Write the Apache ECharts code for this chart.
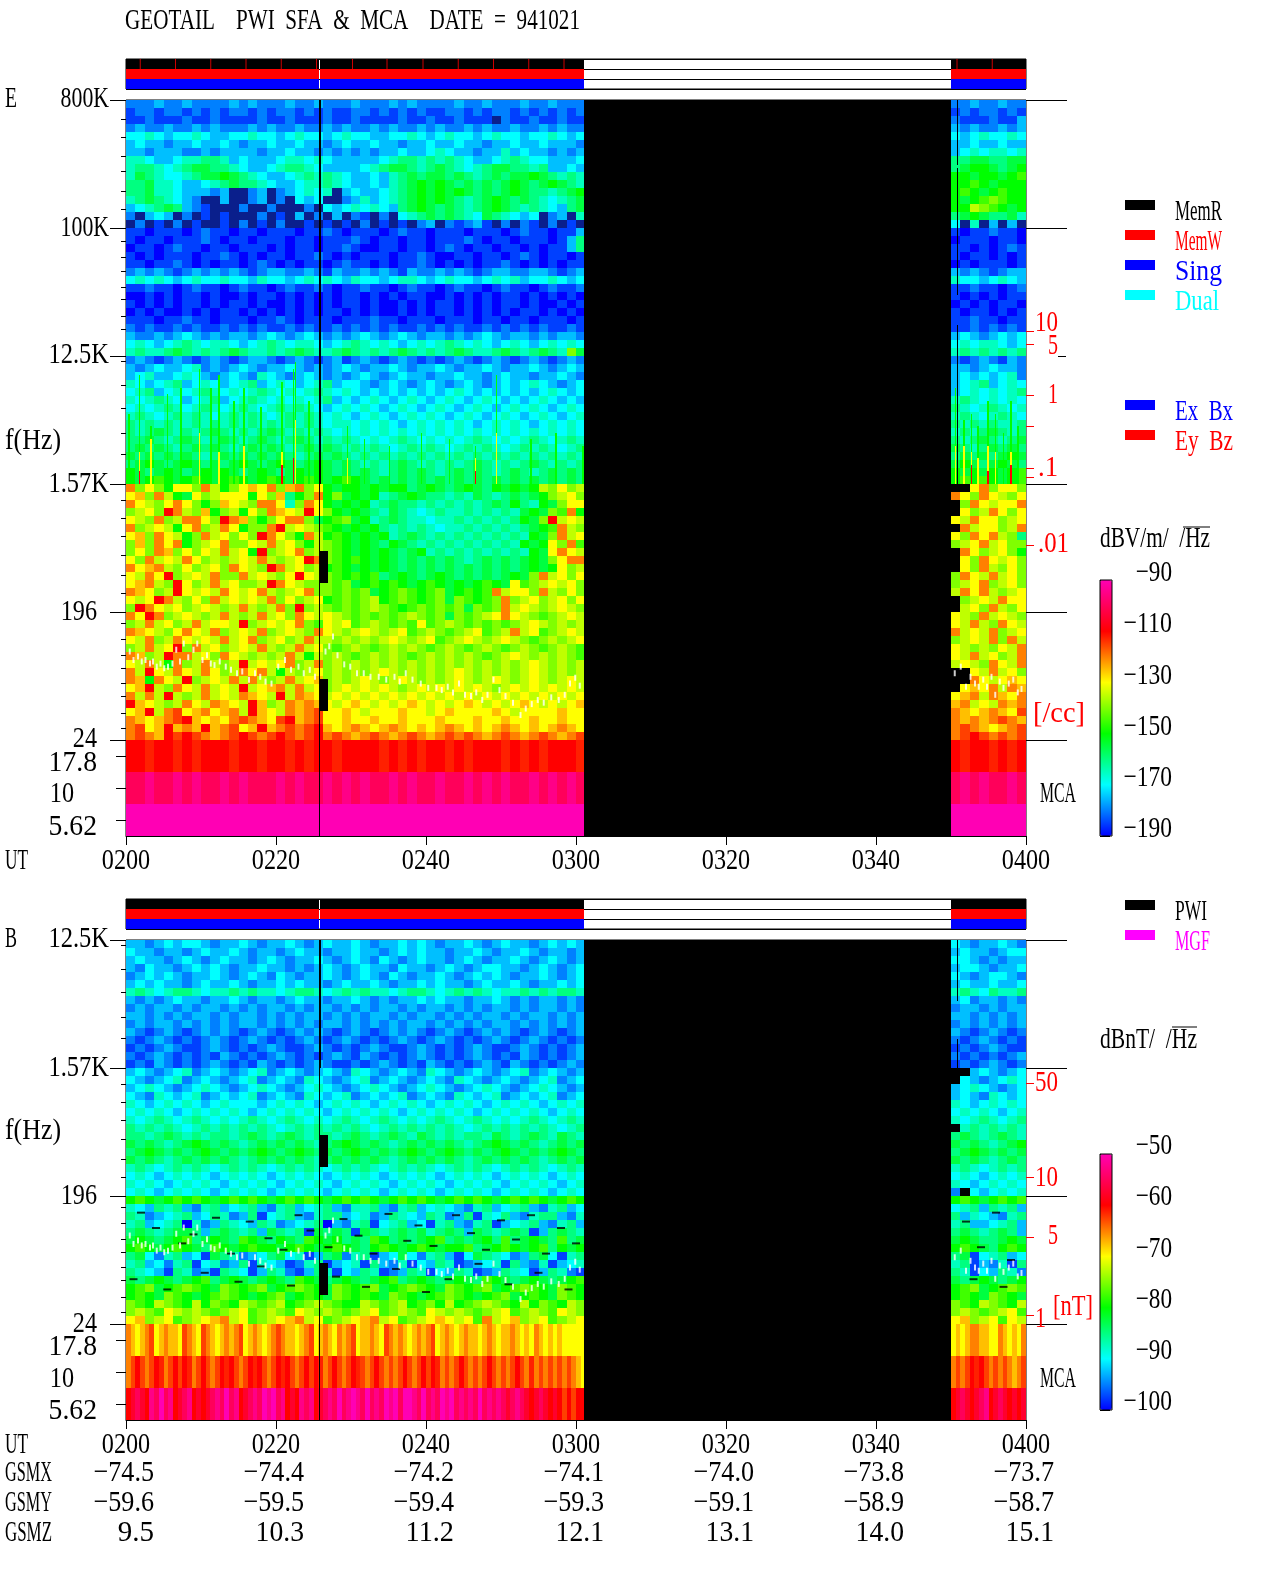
<!DOCTYPE html>
<html><head><meta charset="utf-8">
<style>html,body{margin:0;padding:0;background:#fff}#c{width:1280px;height:1593px}</style>
<script src="https://cdn.jsdelivr.net/npm/echarts@6/dist/echarts.min.js"></script>
</head><body><div id="c"></div>
<script>
// ---- level codes: digits are 10 dB steps (E) / 5 dB steps (B); letters are in-between values; 'd' = below scale; '.' = no data (black)
const levelCodes = {d:-1,'0':0,'1':1,'2':2,'3':3,'4':4,'5':5,'6':6,'7':7,'8':8,'9':9,a:10,p:.5,q:1.5,r:2.5,s:3.5,t:4.5,u:5.5,v:6.5,w:7.5,x:7.75,y:8.5,z:9.5};
const utTicks = ['0200','0220','0240','0300','0320','0340','0400'];
const utMinutes = [0,20,40,60,80,100,120];
const gsmX = ['−74.5','−74.4','−74.2','−74.1','−74.0','−73.8','−73.7'];
const gsmY = ['−59.6','−59.5','−59.4','−59.3','−59.1','−58.9','−58.7'];
const gsmZ = ['9.5','10.3','11.2','12.1','13.1','14.0','15.1'];

// E field, 800 kHz -> 1.57 kHz (left span | right span)
const eHigh = [
"111q11q1111q1q111q11q111q111q1q1111q11q111q11q1111q1 11q11q11",
"p11p11p1p1p11p1p11p1p1pp11p1p1p1pp11p1p11p1p1p1p11p p1p11p1p",
"pp1ppp1pp1pppp1pp1ppp1pp1pppp1pp1pp1pppd1pp1pp1ppp1 1ppp1ppq",
"1q11q11q1q111q1q11q11q1q11q1q11q1q11q1q11q11q1q11q1 q1q11q1q",
"22r2q22r2qq22r22q2r22q2r22qq22r2q2r22q2r22q22r2q222 2q2r22r2",
"q2qq1qq2qq2q1qq2qq2qq1q2qq2qq1qq2qq2qq1qq2qq2qqq1q2 qq2qq2qq",
"qq1qqq11q1qqqq1qq2qq1q1q1q1qq2qq2r2qq1qqrq2qq1q1qq1 q2r2rr2r",
"rr2qq2rr33rq2qqq2rr2r2qqqqq2r33r3r3r2qq2r3r22qqq2qq 33ss33ss",
"r33r2r3ss33r2qq2r33r2qqqq2r3ss3r3s3r2r3ss33r3qq2q22 3s44s3s4",
"rs3r22r3ss4s3r2qq2r3r3r2qq2qr3s3ss3s3r3s3ss4s3r3rrr 44s44s4t",
"33srr2qq2r3s33r2qq2rr3r2qq2qr3s4s4s3s3s3s4s3s4s3r3s 44t4s444",
"33srr2qqq1qdd1qd1q2r2rdq2qq2r3s4s4s4s3s3s4s33r3s4s4 4t4s4t44",
"r3s3r2q1ddqdd1qd1d2q2dd1qrq2r3s4s4s3r3s4s3s3r2r3s4t 4s4t5t44",
"q2r3s3q1pddd1dd1ddd1d2q2r2r2q3s4s3s3r3s4s3r3r2q3s4s 44u5t4s4",
"1dq2qd1dpdpddd1dpdqd1dqd1pd1d2r3s3s3r2s3r2q2d1qdr4t 3s4s33sr",
"d1dpd1dpddpd1dpd1ddpdpdpd1dpdpd1qd1p1qpd1d1pd1dpd3s 2drdqdqd",
"pp0ppp0p1pp0pp0ppp0pp1p0ppp0p1pp0ppp0ppp0p1pp0ppq2p p0pp1pp0",
"p0pp0ppp1p0pp0ppp0pp0ppp1p0pp0pp0ppp1p0pp0ppp0pq3pp 0ppp0pp0",
"0pp0p1pp0pp0ppp0p0pp0pp1p00pp0pp0p1p0pp0pp0p0ppq3p0 pp0p0p1p",
"p0p0ppp0pp1p0p0pp0pp1p0p0ppp0pp1p00pp0pp0p1p0pp0p0p p0pp0p0p",
"pp0pp1p0p0pp0p1p0p0pp0p1pp0p0pp1p0p0p0pp1p0p0p0pp1p 0p0ppp0p",
"1q1q1p1q1q1q1p1qq11q1pq11q1q1pq11q1q1p1qq11qq1p1q1q q1q1p1qq",
"2r2r2q2r22r22qr22q2r2r2qr22q2rr2q2r22q2r2rq22r2q22r r22q2r2q",
"pp1pp0p1pp0p1pp0p1pp1p0pp1pp0p1pp0p1pp0p1pp0p1pp1pp pp1pp0p1",
"00p0p0pp0p00p0pp0p0p0p0pp0p0p0pp00p0p0p0pp0p0p0p0pp p0p0p0pp",
"p0p0p0pp0p0pp0p00p0p0p0pp0p00p0p0pp0p0p0pp0p00p0p0p 0p0p0pp0",
"0p0p00p0p0pp0p0p0p0p0pp0p0p00p0p0pp0p0p0p0pp0p0p0p0 p0pp0p0p",
"ppp0pp1pp0ppp0pp1p0ppp0ppp1pp0ppp0ppp0pp0pp0ppp0ppp pp1pp0pp",
"1p1pp1p1pp1p1p1pp1p1pp1p1p1p1pp1p1p1pp1p1p1p1pp1p1p pp1p1p1p",
"q11q1q2q1q1qq1q2q1q2q1q1q2q1q2q1qq1q1q2q1qq1q1qq1q1 q2q1q2q2",
"2r2q2r3r2rr2q2r3r2rr2q2r3r2r2q2r2r3r2r2q2r2q2r2r2r3 2r2rr2q2",
"r3rr3s3r3r3s3rr3r3s3rr3s3r3r3s3r3r3s3rr3s3r3s3r5s33 r3r3r3r3",
"1q1p1q1p1q1p1qq1p1q1p1qp1q1p1q1p1p1q1p1q1p1q1p1q1pp 1p1q1pq1",
"q1q2qq2r1q1q2q1qq2q1q1q2q1qq2q1qq2q1qq2q1qq2q1q2q1q qq1q2qq1",
"q2rqq2r2q1q2q1r2q1q2q1q1q2q1q2qq1qq2qq1q2qq1qq2q1qq q2q2q2r1",
"r2q2r3q2r2q2r3q2r2q2r3q22q1q2q1q2q1q2q1q2q2r2q1q2q1 q2r3q2r2",
"2r3q2r2r3r2r2r3r2r2r3r2r2q2q2q2q2q2r2q2q2q2q2r2q2q2 q2r2r2r3",
"r2r3r2q2r3q2r3r2r2r2r3q2q2r2q2r2q2r2q2r2q2q2r2q2q2r r3r2r2r2",
"2r2r3r2r3r2r3r2r3r3r2q2r2r2q2r2q2r2q2r2q2r2r2q2r2r2 3r2r3r2r",
"r3r2r3r3r2r3r3r2r3r3r2r2q2r2q2r2r2q2r2q2r2q2r2q2r2q r3r2r3r2",
"3r3r3rr3r3r3r3r3r3r3r2rr2r2r2q2r2r2r2q2r2r2q2r2r2r2 3r3r3rr3",
"3r3s3r3r3s3r3r3s3r3r3r2r2r2r2r2r2r2r2r2r2r2r2r2r2r2 r3r3s3r3",
"33s3r3s3r3s3r3s3r3s3r3r3r2r2r3r2r2r2r3r2r2r3r2r3r2r 3r3s3r3s",
"3s3s3r3s3s3r3s3s3r3s3s3r3r3r2r3r3r2r3r3r2r3r3r2r3r3 s3r3s3s3",
"s3s3s3s3r3s3s3s3s3r3s3s3r3r3r3r3r3r3r3r3r3r3r3r3r3r 3s3s3s4s",
"3s4s3s4s3s3s4s3s4s3s4s3s3r3r3s3r3r3r3s3r3r3s3r3r3r3 s4s3s4s3",
"4s3s4s3s4s4s3s4s3s4s4s3s3s3r3s3s3r3s3s3r3s3r3s3s3r3 4s4s4s4t",
"4s4t4s4t4s4t4s4t4s4t4s4t4s3s3s3s3s3s3s3s3s3s3s3s3s3 4t4t4s4t"];

// E field, 1.57 kHz -> 24 Hz
const eLow = [
"756546657u456v675v7564s44s4s443s4s3s4s34s4s4u565u6 ..675665",
"6v57u4s65u666465v345745s4s4r3s4s33r3rs3r3s3s45u65u 76576u56",
"76u5676545v6u5776r5764s4s4r3s33r3r3r3r3s343r4s5665 .576u667",
"5u6587u5v45u4657v6u8654s4s3rs3r2r3rr3r3r3rs4s5t745 .65u7656",
"6u575u776587v5456775s4t5s4r3s3rr2rr3r3r3r34s58u6u5 6u7665u6",
"75u6u4675u7645578u6u5t4s4s43r3r3r2rr3r3r3r3s4t7u56 .7u665u7",
"6v576u457u6565876547u4t4s4s4r3s3r3r3r3r3r3r4s57u65 65767u53",
"5v576745u67556u7u654u5t4s4s34s3r3r3r3r3r3r4s4657t5 5u67u655",
"5657v5656u7u6485u675u5t4s4s4s3s4r3r3r3r3r3r4s676u5 .765u654",
"657u6u765u5u6u7u5u6875t4t4s4s3s3s3s3r3s3s3s4s56776 .6576u65",
"76v7u565u6576u587u65u4t4s4s4s3s3s3s3s3s3s3s4s465u6 .657u565",
"6u7685u6u7557u6u5686u5t4t4t3s4s3s4s3s3s3s4s57u6565 576u7u65",
"6v7u5865u7u655u876u555t5s4t4t4s4t4s4s4t4s6t5u6u655 5u675u65",
"7v65u86u6u76u67u5u6755t5t5s4t5t4t5s4t4t7u6657u5655 u767u5u6",
"6u687u5657u6u6u7565u64t5t5u4t5t4t5s5t4t575u65u6565 .5u6u766",
"5876u65u6u5u7u5u7585u5t5t5u5t4t5t5t5s5t57u6u5u6u55 .u657u56",
"76875u6u5u7u5u7u6576u6u5t5t5t5u5t5s5t5u676u5t5u6u5 6u57u6u5",
"5u7u65u7u66u85u6u675t6u6t5u5t5t6t5u5t5t5t5u6u5u5u5 6u7u576u",
"7v6u5676u75u6u75u6u576u5u6u5u6t5u5t5u6t5u7u6t5u6u5 7u6u75u6",
"6u75u76u6u7u675u65u7uu5u5u5u6u5u6t5u6u5u6u5t5u5u65 5u6u757u",
"5u7u6857u65u6u7u5u7u65t5u5t5u5u5t5u5t5u5t5u5t5u5t5 6u5u56u7",
"7v5u877u6576u5u5u7u4u5u5t5u5u5t5u5u5u5t5u6u5u5u5t5 6u7u65u7",
"6u7u475u7u5u8u6u675u75u5u5u5u5u5u5u5u5u5u5u6u5u5u5 u6u576u7",
"7u86u76u765u767u4u5u65u5u5u6u5u5u5u6u5u5u5u6u5u5u5 ..6u7u65",
"7v476u85u6u7u7u5u7u6v5u5u6u5u6u5u5u6u5u6u5u6u5u6u5 ..76u6v6",
"6v8u576u7u6u8u6v7u7u65u6u6u6u5u6u6u6u6u5u6u6u6u6u6 .6v67u7v",
"7u7u8u5u7u6u7v6u8u7v6u6u6u6u6u6u6u6u6u6u6u6u6u6u6u 6v7u7v67",
"8v6u5u76u7v6u8v5u7v7v6u6v6u6u6v6u6u6v6u6u6v6u6u6v6 v7u6u7v7",
"6v8u7w6v76v7u8v6u7v7w66v6u666v66u6v6666v6u6666v666 7v6v7v6w",
"7v6v7w8v6v67w7v6w8v7w66v66v66v666v666v66v66v66v6666 7v7v7w7v",
"7w6v8v7v8v7w6v8v7w7w8v6v7v6v7v6v6v7v6v6v7v6v6v7v6v6 7w7v6v7w",
"7w7v8w8w7v7w8w7w8w7w87w7v7w7v7w7v7w7w7v7w7v7w7v7w7v 7w8w7w7w"];

// E field, MCA bands (17.8, 10, 5.62 Hz)
const eMca178 = "88x88x8x888x88x88x8x88x8888x8x8x88x8x888x8x8x888x8x 8x88x8x8";
const eMca10  = "99z99z9z99z9z999z9z99z9z9z99z9z99z99z9z9z99z9z9z9z9 9z9z99z9";
const eMca562 = "aaaaaaaaaaaaaaaaaaaaaaaaaaaaaaaaaaaaaaaaaaaaaaaaaaaa aaaaaaaa";

// E field, thin vertical bursts above 1.57 kHz: minutes, top in axis steps
const burstGreenT = [0.3,1.7,3.2,5.4,7.2,9.7,11.2,12.3,14.3,15.6,17.9,20.7,22.2,22.5,24.3,29.4,31.7,35,39.3,43,46.5,49.3,53.9,57.2,60.8,110.5,111.6,112.6,113.5,114.8,115.8,116.9,117.9,118.8];
const burstGreenTop = [3.3,3.6,3.2,3.45,3.5,3.65,3.5,3.6,3.4,3.5,3.35,3.55,3.65,3.7,3.4,3.2,3.1,3.05,3.15,3.1,3.05,3.6,3.1,3.15,3.05,3.5,3.25,3.3,3.2,3.4,3.3,3.15,3.4,3.2];
const burstYellowT = [1.7,3.2,9.7,12.3,15.6,20.7,22.5,29.4,46.5,49.3,110.5,111.6,112.6,113.5,114.8,115.8,117.9];
const burstYellowTop = [3.0,3.1,3.15,3.0,3.05,3.0,3.25,2.95,2.95,3.15,3.05,3.05,3.0,2.95,3.05,3.0,3.0];
const burstRedT = [1.7,20.7,22.2,46.5,112.6,114.8,117.9];
const burstRedTop = [2.85,2.9,2.95,2.85,2.9,2.85,2.9];

// B field, 12.5 kHz -> 1.57 kHz
const bHigh = [
"qq1q2q22q1qq2q1qq2q1q2qq2q1qq2q2q1qq2q1q2qq1q2q2q1 2q1qq2q1",
"2qq1qq1q2qq2q1qq1q2qq1qq2qq1q2q2qq1qq2q1qq2q1qq1q2 q2qq1q22",
"q2qq1q2q1q2qq1q2q1qq2q1q2q12q1q2qq1q2q1qq2q1q2q1qq 22q1q1qq",
"q12qq1q2q2q1qq2qq1q1q2q1q2qq12qq1q2q1q22qq1q2q1q2q q22q1qq2",
"1q2q2q1qq2q1q2q12q1qq2q1q2q12q1qq2q1q2q2q1qq2q1q2q 2q1q22q1",
"q2q2qq1q2qq2q1qq2q2qq1q2qq2q1qq2q2qq1q2qq2q1qq2q2q q2qq2qq2",
"r3r2r33r2rr3r3rr2r33r2r3r3rr2r33r2r3r3r2rr3r3r33r2 r3r23rr3",
"q1q1q2qq1qq2q1qq1q2qq1qq2q1q1qq2q2qq1qq2q1q1qq1q1q q21qq1q1",
"1q1qq1q1qq1q1q1qq1q1qq1q1q1qq1q1qq1q1q1qq1q1qq1q1q 1qq1q1qq",
"qq1q1q1qq1q1qq1q1q1qq1q1q1qq1q1qq1q1q1qq1q1qq1q1qq qq1q1q1q",
"1q1qq1q1q1q1qq1q1q1q1qq1q1q1q1qq1q1q1q1qq1q1q1q1qq 1q1q1q1q",
"q1p1q1p1q1q1p1q1p1q1q1p1q1p1q1q1p1q1p1q1q1p1q1p1q1 q1p1q1p1",
"1p1q1p1p1q1p1q1p1p1q1p1q1p1p1q1p1q1p1p1q1p1q1p1p1q 1p1q1p1p",
"p1p1q1pp1q1p1p1q1pp1q1p1p1q1pp1q1p1p1q1pp1q1p1p1q1 p1p1q1pp",
"1p1q1p1p1pq1p1p1q1p1p1q1pq1p1p1q1p1p1q1p1pq1p1p1q1 1p1p1p1q",
"p1pq1p1p1q1p1pq1p1p1q1pp1p1q1p1pq1p1p1q1pq1p1p1q1p p1p1q1p1"];

// B field, 1.57 kHz -> 24 Hz
const bLow = [
"q2q1q2r1q2q1q2r1q2q1q2q1r2q1q2q1r2q1q2q1q2r1q2q1q2r ..q2q1q2",
"2q1q2r1q2q1q2r1q2q1r2q1q2r1q2q1q2q1r2q1q2q1q2r1q2q1 .2q1q2r2",
"q2r2q1q2r2q1q2r2q1q2r2q1q2r2q1q2r2q1q2r2q1q2r2q1q2r q2r2q1q2",
"2q1r2q2r1q2q2r1q2q1r2q2r1q2q2r1q2q1r2q2r1q2q2r1q2q1 q2q1r2q2",
"r2q2r2r2q2r222q2r2r2q2r2r2q2r2r2q2r2r2q2r2r2q2r2r2q r2q2r2r2",
"2r2r2q2r2r2r2q2r2r2r2q2r2r2r2q2r2r2r2q2r2r2r2q2r2r2 2r2r2q2r",
"r2r3r2r3r2r2r3r2r3r2r2r3r2r3r2r2r3r2r3r2r2r3r2r3r2r r2r3r2r3",
"3r3r3r2r3r3r3r3r2r3r3r3r3r2r3r3r3r3r2r3r3r3r3r2r3r3 .r3r3r3r",
"33r3s3r3r33r3s3r3s3r33r3s3r3s3rs3r3r33rs3r3s3rs3r3r 3s3r3s3r",
"s3s3r3s4s3s3r3s3s3s3r3s4s3s3r3s3s3s3r3s4s3s3r3s3s3s s3s3r3s4",
"3s4s3s3s4s3s3s4s3s4s3s3s4s3s3s4s3s4s3s3s4s3s3s4s3s4 3s4s3s3s",
"s3s3r3s3s3s3r3s3s3s3r3s3s3s3r3s3s3s3r3s3s3s3r3s3s3s s3s3r3s3",
"r3r2r3r3r2r3r3r2r3r3r2r3r3r2r3r3r2r3r3r2r3r3r2r3r3r r3r2r3r3",
"2r2q2r2r2q2r2r2q2r2r2q2r2r2q2r2r2q2r2r2q2r2r2q2r2r2 2r2q2r2r",
"r2r2q2r2r2q2r2r2q2r2r2q2r2r2q2r2r2q2r2r2q2r2r2q2r2r r2q2r2r2",
"2r2q2r2r2q2r2r2q2r2r2q2r2r2q2r2r2q2r2r2q2r2r2q2r2r2 1.2q2r2r",
"4t4s4t4t4s4t4t4s4t4t4s4t4t4s4t4t4s4t4t4s4t4t4s4t4t4 4t4s4t4t",
"r2q3r3q1r3q2r3q1r3q2r3q1rr3q1r3q2r2q1r3q2r3q1r3q2r3 2r3q3r3q",
"3r1q2r3q23r1q3p2r3q1r33q2r1q3r2q3r1q3pr23q1r33q1r3q 3qr2q1r3",
"r3q2r30r1q3r2q3r1q2r30q1r3p2r3q2pr3q1r3pq2r3q1r3q2r r3qq2r3q",
"3s3r3ss3q3s3r3qs3r3ps3s3ps3r3s3sr3s3qs3r3s3pq3s3r3s 3s3r3s3q",
"s4s3s4t3s4s3t4s34s3t4s43s3t43s3s4t3s3s43t3s4s3t3s3s s4s33s4s",
"4t4s4t4s3t4s4t44s4t4s4t4s34t4s4t4s44t3s4t4s4t34s4t4 4t4s34t4",
"3s21r3q2ps3r1q23s2rpq3s1r3pq2s21r3qp2s3r21q3s2pr3q2 3sp2r3q2",
"r3q21r3p2r1q3pr2qp1r3pq2rp3q1rp2q3rp1q2rp3q1rpq2r3p r3pq1rp3",
"3r2qp3r1qp3r2pq3r1pq3rp2q3rp1q3rp2q3rp1q3r2pq3r1pq3 3rp2q3r1",
"s3s4s3s4t3s4s3s4s3t4s3s4s3s4t3s4s3s4s3t4s3s4s3s4t3s s3s4s3s4",
"4t5s4t5t4s5t4t5s4t5t4s5t4t5s4t5t4s5t4t5s4t5t4s5t4t5 4t5s4t5t",
"4t4s5t4s4t5t4s4t5s4t4s5t4t4s5t4s4t5t4s4t5s4t4s5t4s4 4t4s5t4s",
"5t4u5t4u45t4u5t5u4t5u5t44u5t5u4t54u4t5u5t4u45t4u5t4 5t4u5t4u",
"5u5t6u5u5t5u6t5u5t6u5u5t5u6t5u5t6u5u5t5u6t5u5t6u5u5 5u5t5u6t",
"6v5u6t5u6v7u6t5u6v7u6t5u6v7u6t5u6v6u6t7u6v5u6t5u6v5 6v5u6t6u"];

// B field, short black dropouts: minutes and axis steps
const dropT = [2,4,7.5,9,12,14,16.5,19,21,23,24.6,27,29,31,33,35,37.5,39,41,44,46,48,50,52,54,56,58,60,1,5.5,10.5,15,18,22,28,32,36,40,43,47,51,55,59,112,114,116,118,113,117];
const dropStep = [1.62,1.5,1.38,1.45,1.58,1.3,1.55,1.42,1.33,1.6,1.48,1.35,1.57,1.44,1.3,1.61,1.4,1.52,1.36,1.6,1.46,1.33,1.56,1.41,1.6,1.3,1.5,1.38,1.1,1.02,1.15,1.08,1.2,1.05,1.12,1.04,1.18,1.0,1.1,1.22,1.06,1.15,1.02,1.55,1.35,1.62,1.25,1.1,1.04];

// B field, MCA bands, finer time steps
const bMca178 = "7v6v7w6v7vv6w7v6w7v6v7v7w6v7v6v7w7vv6v7w6v7v67v7w6vv7v6w7v7v6v7v7w6v7v6v7vv6v7v6vv7v6v67v6v6v66666666 6v6v77vv667v6v67";
const bMca10  = "7w8w7w8x7w8w8x7w8w7w8x8w7w8x8w7w8x8w7w8w8x7w8w7w8xw7w8w7w7w8w7w8w8x7w7w8w7w7w8w7w7w8w7x7w7w7w7w7v6v6v 7w7w8x8w7w7w7v7w";
const bMca562 = "8y9y8z9a9z8y9z8y8y9z9a9z8y9z9aza9z8y8z9z8y9z9a9zaz9a9z9aza9aaz9a9z9aza9z9z9a9z9z9y9z9y8y9y8y8w8w8888 8y9y8y9z8y9y8y8y";

// time spans of data
const dataSpans = [[0,61.07],[110,120]];
const statusSpans = [[0,25.75],[25.9,61.07],[110,120]];
const statusColors = ['#0000ff','#ff0000','#000000'];
const statusTickMinutes = [1.9,6.6,11.3,16,20.7,25.4,30.2,34.8,39.6,44.3,49,53.7,58.4,110.8,115.5];

// white trace: minutes and Hz
const traceT = [0.5,1.0,1.6,2.1,2.6,3.2,3.6,4.1,4.6,5.1,5.6,6.2,6.7,7.2,7.7,8.3,9.0,9.5,10.2,10.8,11.3,11.8,12.5,13.3,14,14.8,15.5,16.4,17.2,17.9,18.6,19.4,20.3,21.2,22,23,23.7,24.5,25.2,26.6,27.1,27.6,28.2,29.1,29.9,30.8,31.7,32.6,33.7,34.7,35.8,36.5,37.3,38.2,39.3,40.3,41.4,42.1,42.9,43.6,44.4,45.2,46,46.7,47.5,48.2,49,49.8,50.6,51.6,52.6,53.3,54.1,54.9,55.7,56.7,57.7,58.5,59.2,59.9,60.5,110.5,111.3,112,112.6,113.2,113.7,114.3,114.8,115.4,115.9,116.5,117,117.7,118.3,118.9,119.4];
const traceHz = [101,88,93,86,88,83,86,79,83,77,79,83,104,86,115,92,104,115,88,95,83,81,86,79,75,71,73,64,71,67,62,60,79,88,75,79,71,75,67,101,110,129,95,82,79,71,71,67,67,64,67,62,71,64,60,56,56,54,57,52,60,50,49,52,46,50,64,54,49,44,36,40,43,46,44,48,46,50,60,66,58,71,79,57,67,60,57,64,57,67,50,62,56,60,64,52,55];

// black no-data marks: t0,t1,yLow,yHigh in axis steps
const gapMarksShared = [[25.87,26.93,1.98,2.23],[25.87,26.93,0.98,1.23]];
const gapMarksE = [[25.75,25.88,0,5.75],[25.75,26.05,2.75,5.75],[110.75,110.92,5.24,5.75],[110.75,110.92,4.23,5.22],[110.75,110.92,2.75,3.99]];
const gapMarksB = [[25.75,25.88,0,3.75],[25.75,26.05,2.75,3.75],[110.75,110.92,3.27,3.75],[110.75,110.92,2.75,2.98]];

// axis ticks, in steps of factor 8 (0.75 = 24 Hz, 1.75 = 196 Hz ...); MCA bands are 0.25 each
const majorSteps = [0.75,1.75,2.75,3.75,4.75,5.75];
const mcaSteps = [0.125,0.375,0.625];
const minorSteps = [5.60,5.46,5.31,5.19,5.04,4.90,4.65,4.52,4.41,4.29,4.19,4.06,3.96,3.71,3.52,3.34,3.15,2.98,2.625,2.48,2.34,2.19,2.04,1.90,1.66,1.54,1.41,1.31,1.19,1.09,0.96,0.84];
const redStepsE = [3.94,3.84,3.44,3.20,2.875,2.80,2.27];
const redStepsB = [2.63,1.90,1.43,0.82];
const cbTicksE = [-190,-170,-150,-130,-110,-90];
const cbTicksB = [-100,-90,-80,-70,-60,-50];

const rampColors = ['#0000ff','#00ffff','#00ff00','#ffff00','#ff0000','#ff00b4'];
const COLW = 1.25;

function cells(rows, topStep, rowStep, base, perLevel, colW){
  const out = [];
  rows.forEach((row,i)=>{
    const parts = row.split(' ');
    const y1 = topStep - i*rowStep, y0 = y1 - rowStep;
    parts.forEach((p,s)=>{
      const span = dataSpans[s];
      const cw = s===1 ? (span[1]-span[0])/p.length : colW;
      for(let c=0;c<p.length;c++){
        const t0 = span[0]+c*cw; if(t0>=span[1]) break;
        const t1 = Math.min(span[1], t0+cw);
        const lv = levelCodes[p[c]];
        if(lv===undefined) continue;
        out.push([t0,t1,y0,y1,lv<0 ? base : base+perLevel*lv, lv<0 ? 1 : 0]);
      }
    });
  });
  return out;
}
function bursts(ts,tops,dB){ return ts.map((t,i)=>[t,t+0.2,2.75,tops[i],dB,0]); }
function rectItem(fillOf){
  return function(params, api){
    const a = api.coord([api.value(0),api.value(3)]);
    const b = api.coord([api.value(1),api.value(2)]);
    const x = Math.round(a[0]), y = Math.round(a[1]);
    return {type:'rect', shape:{x:x,y:y,width:Math.max(1,Math.round(b[0])-x),height:Math.max(1,Math.round(b[1])-y)}, style:{fill:fillOf(api)}};
  };
}
const spectro = rectItem(api=>api.value(5)? '#0a1f8c' : api.visual('color'));
const blackRect = rectItem(()=>'#000');
const statusRect = rectItem(api=>statusColors[api.value(4)]);

const stepOfHz = f => 0.75 + Math.log(f/24)/Math.log(8);
const tracePts = () => traceT.map((t,i)=>[t,stepOfHz(traceHz[i])]);

const eData = [].concat(
  cells(eHigh,5.75,1/16,-190,10,COLW),
  cells(eLow,2.75,1/16,-190,10,COLW),
  cells([eMca178,eMca10,eMca562],0.75,0.25,-190,10,COLW),
  bursts(burstGreenT,burstGreenTop,-150),
  bursts(burstYellowT,burstYellowTop,-130),
  bursts(burstRedT,burstRedTop,-110));
const bData = [].concat(
  cells(bHigh,3.75,1/16,-100,5,COLW),
  cells(bLow,2.75,1/16,-100,5,COLW),
  cells([bMca178,bMca10,bMca562],0.75,0.25,-100,5,0.625));
const statusData = [];
statusSpans.forEach(s=>{[0,1,2].forEach(r=>statusData.push([s[0],s[1],r,r+1,r]));});

const LEFT=126, W=900;
const grids = [
 {left:LEFT,top:100,width:W,height:736,show:true,backgroundColor:'#000',borderColor:'#000',borderWidth:1},
 {left:LEFT,top:59,width:W,height:30,show:true,backgroundColor:'#fff',borderColor:'#000',borderWidth:1},
 {left:LEFT,top:940,width:W,height:480,show:true,backgroundColor:'#000',borderColor:'#000',borderWidth:1},
 {left:LEFT,top:899,width:W,height:30,show:true,backgroundColor:'#fff',borderColor:'#000',borderWidth:1},
 {left:1100,top:580,width:12,height:256,show:true,backgroundColor:'transparent',borderColor:'#000',borderWidth:1,z:10},
 {left:1100,top:1154,width:12,height:256,show:true,backgroundColor:'transparent',borderColor:'#000',borderWidth:1,z:10}
];
const blackLine={color:'#000',width:1};
function xA(g,ticks){return {gridIndex:g,type:'value',min:0,max:120,interval:20,position:'bottom',
  axisLine:{show:ticks,lineStyle:blackLine,onZero:false},axisTick:{show:ticks,length:9,lineStyle:blackLine},axisLabel:{show:false},splitLine:{show:false}};}
function yA(g,max,pos,vals,len,color,offset){return {gridIndex:g,type:'value',min:0,max:max,position:pos,offset:offset||0,
  axisLine:{show:false,onZero:false},axisLabel:{show:false},splitLine:{show:false},
  axisTick:{show:true,inside:false,length:len,customValues:vals,lineStyle:{color:color,width:1}}};}
const statusY=g=>({gridIndex:g,type:'value',min:0,max:3,interval:1,axisLine:{show:false},axisTick:{show:false},axisLabel:{show:false},splitLine:{show:true,lineStyle:blackLine}});
const cbY=(g,min,max,vals)=>({gridIndex:g,type:'value',min:min,max:max,position:'right',axisLine:{show:false},splitLine:{show:false},axisLabel:{show:false},axisTick:{show:true,length:10,customValues:vals,lineStyle:blackLine}});
const xAxes=[xA(0,true),xA(1,false),xA(2,true),xA(3,false),
  {gridIndex:4,type:'value',min:0,max:1,show:false},{gridIndex:5,type:'value',min:0,max:1,show:false}];
const yAxes=[
 yA(0,5.75,'left',majorSteps,16,'#000'),                  //0
 yA(0,5.75,'left',minorSteps,5,'#000'),
 yA(0,5.75,'left',mcaSteps,10,'#000'),
 yA(0,5.75,'right',[0.75,1.75,2.75,4.75,5.75],41,'#000'),
 yA(0,5.75,'right',redStepsE,8,'#f00'),
 yA(0,5.75,'right',[3.75],8,'#000',32),
 statusY(1),                                              //6
 yA(2,3.75,'left',majorSteps.filter(v=>v<=3.75),16,'#000'), //7
 yA(2,3.75,'left',minorSteps.filter(v=>v<=3.75),5,'#000'),
 yA(2,3.75,'left',mcaSteps,10,'#000'),
 yA(2,3.75,'right',[0.75,1.75,2.75,3.75],41,'#000'),
 yA(2,3.75,'right',redStepsB,8,'#f00'),
 statusY(3),                                              //12
 cbY(4,-190,-90,cbTicksE),                                //13
 cbY(5,-100,-50,cbTicksB)                                 //14
];
function custom(name,xi,yi,data,ri,z){return {type:'custom',name:name,xAxisIndex:xi,yAxisIndex:yi,data:data,renderItem:ri,encode:{x:[0,1],y:[2,3]},clip:true,silent:true,animation:false,progressive:0,z:z||2};}
function trace(xi,yi){return {type:'scatter',xAxisIndex:xi,yAxisIndex:yi,data:tracePts(),symbol:'rect',symbolSize:[2,6],itemStyle:{color:'#fff'},silent:true,animation:false,z:6};}
const series=[
 custom('E spectrum',0,0,eData,spectro),
 custom('B spectrum',2,7,bData,spectro),
 custom('E gaps',0,0,gapMarksShared.concat(gapMarksE),blackRect,4),
 custom('B gaps',2,7,gapMarksShared.concat(gapMarksB),blackRect,4),
 trace(0,0),trace(2,7),
 {type:'scatter',name:'B dropouts',xAxisIndex:2,yAxisIndex:7,data:dropT.map((t,i)=>[t,dropStep[i]]),symbol:'rect',symbolSize:[8,2],itemStyle:{color:'#000'},silent:true,animation:false,z:5},
 custom('E status',1,6,statusData,statusRect),
 custom('B status',3,12,statusData,statusRect),
 {type:'scatter',xAxisIndex:1,yAxisIndex:6,data:statusTickMinutes.map(t=>[t,2.5]),symbol:'rect',symbolSize:[1,10],itemStyle:{color:'#f00'},silent:true,animation:false,z:5}
];
const vm=(min,max,top,si)=>({type:'continuous',min:min,max:max,dimension:4,seriesIndex:si,left:1100,top:top,itemWidth:12,itemHeight:256,
  text:['',''],showLabel:false,calculable:false,hoverLink:false,padding:0,inRange:{color:rampColors},z:1});

const chart = echarts.init(document.getElementById('c'),null,{width:1280,height:1593,renderer:'canvas'});
chart.setOption({animation:false,backgroundColor:'#fff',grid:grids,xAxis:xAxes,yAxis:yAxes,series:series,
  visualMap:[vm(-190,-90,580,0),vm(-100,-50,1154,1)]});

// ---- text: tall serif, fitted to the reference's fixed character cell
const FONT='28px "Liberation Serif"';
const mctx=document.createElement('canvas').getContext('2d'); mctx.font=FONT;
function txt(s,x0,x1,cy,color){
  const nat=mctx.measureText(s).width, sx=(x1-x0)/nat;
  return {type:'text',x:x0,y:cy+1.5,scaleX:sx,scaleY:1.05,silent:true,z:20,
    style:{text:s,font:FONT,fill:color||'#000',align:'left',verticalAlign:'middle'}};
}
const CH=12.1;
function rtxt(s,xr,cy,color){const n=[...s].length;return txt(s,xr-n*CH,xr,cy,color);}
function ctxt(s,xc,cy,color){const n=[...s].length;return txt(s,xc-n*CH/2,xc+n*CH/2,cy,color);}
function swatch(y,c){return {type:'rect',shape:{x:1125,y:y,width:30,height:10},style:{fill:c},silent:true,z:20};}
function line(x0,x1,y){return {type:'line',shape:{x1:x0,y1:y,x2:x1,y2:y},style:{stroke:'#000',lineWidth:1},silent:true,z:20};}
const g=[];
g.push(txt('GEOTAIL    PWI  SFA  &  MCA    DATE  =  941021',125,580,20));
g.push(txt('E',5,17,98)); g.push(rtxt('800K',109,98)); g.push(rtxt('100K',109,227)); g.push(rtxt('12.5K',109,354));
g.push(txt('f(Hz)',5,61,440)); g.push(rtxt('1.57K',109,483)); g.push(rtxt('196',97,611)); g.push(rtxt('24',97,738));
g.push(rtxt('17.8',97,762)); g.push(rtxt('10',74,793)); g.push(rtxt('5.62',97,826)); g.push(txt('UT',5,28,860));
g.push(txt('B',5,17,938)); g.push(rtxt('12.5K',109,938)); g.push(rtxt('1.57K',109,1067)); g.push(txt('f(Hz)',5,61,1130));
g.push(rtxt('196',97,1195)); g.push(rtxt('24',97,1323)); g.push(rtxt('17.8',97,1346)); g.push(rtxt('10',74,1378)); g.push(rtxt('5.62',97,1410));
g.push(txt('UT',5,28,1444)); g.push(txt('GSMX',5,52,1472)); g.push(txt('GSMY',5,52,1502)); g.push(txt('GSMZ',5,52,1532));
utMinutes.forEach((m,i)=>{
  const px=chart.convertToPixel({xAxisIndex:0},m);
  g.push(ctxt(utTicks[i],px,860)); g.push(ctxt(utTicks[i],px,1444));
  g.push(rtxt(gsmX[i],px+28,1472)); g.push(rtxt(gsmY[i],px+28,1502)); g.push(rtxt(gsmZ[i],px+28,1532));
});
g.push(txt('10',1035,1058,322,'#f00')); g.push(txt('5',1048,1058,345,'#f00')); g.push(txt('1',1048,1058,394,'#f00'));
g.push(txt('.1',1038,1058,467,'#f00')); g.push(txt('.01',1038,1069,543,'#f00')); g.push(txt('[/cc]',1033,1085,713,'#f00'));
g.push(txt('MCA',1040,1076,793));
g.push(txt('50',1035,1058,1082,'#f00')); g.push(txt('10',1035,1058,1177,'#f00')); g.push(txt('5',1048,1058,1235,'#f00'));
g.push(txt('1',1035,1046,1318,'#f00')); g.push(txt('[nT]',1053,1093,1306,'#f00')); g.push(txt('MCA',1040,1076,1378));
[[200,'#000','MemR',1222],[230,'#f00','MemW',1222],[260,'#00f','Sing',1222],[290,'#0ff','Dual',1219],[400,'#00f','Ex  Bx',1233],[430,'#f00','Ey  Bz',1233],[900,'#000','PWI',1207],[930,'#f0f','MGF',1210]]
 .forEach(a=>{g.push(swatch(a[0],a[1])); g.push(txt(a[2],1175,a[3],a[0]+11,a[1]));});
g.push(txt('dBV/m/  /Hz',1100,1210,538)); g.push(line(1183,1210,527));
g.push(txt('dBnT/  /Hz',1100,1197,1039)); g.push(line(1172,1197,1027));
cbTicksE.forEach(v=>{const py=chart.convertToPixel({yAxisIndex:13},v); g.push(rtxt('−'+Math.abs(v),1172,py-8));});
cbTicksB.forEach(v=>{const py=chart.convertToPixel({yAxisIndex:14},v); g.push(rtxt('−'+Math.abs(v),1172,py-9));});
chart.setOption({graphic:{elements:g}});
</script></body></html>
